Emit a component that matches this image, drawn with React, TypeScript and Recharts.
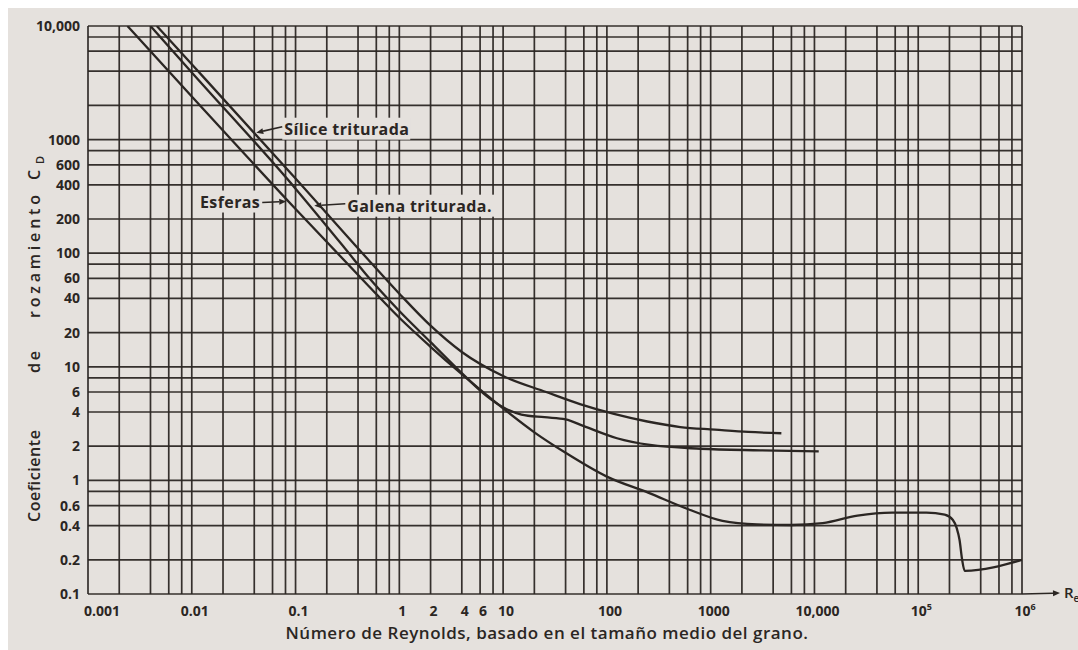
import React from "react";
import { LineChart, Line, XAxis, YAxis, CartesianGrid, ReferenceDot, Label } from "recharts";

// grid: lines at 1, 2, 4, 6, 8 of every decade
const GRID_MULT = [1, 2, 4, 6, 8];
const X_DECADES = [-3, -2, -1, 0, 1, 2, 3, 4, 5];
const Y_DECADES = [-1, 0, 1, 2, 3];

const X_LABEL_VALUES = [0.001, 0.01, 0.1, 1, 2, 4, 6, 10, 100, 1000, 10000, 100000, 1000000];
const X_LABEL_TEXT = ["0.001", "0.01", "0.1", "1", "2", "4", "6", "10", "100", "1000", "10,000", "10^5", "10^6"];

const Y_LABEL_VALUES = [10000, 1000, 600, 400, 200, 100, 60, 40, 20, 10, 6, 4, 2, 1, 0.6, 0.4, 0.2, 0.1];
const Y_LABEL_TEXT = ["10,000", "1000", "600", "400", "200", "100", "60", "40", "20", "10", "6", "4", "2", "1", "0.6", "0.4", "0.2", "0.1"];

// curves (Re, C_D)
const ESFERAS_RE = [0.0024, 0.01, 0.1, 0.5, 1, 2, 4, 10, 20, 40, 100, 250, 600, 1300, 2800, 6000, 12000, 26000, 56000, 120000, 180000, 215000, 235000, 250000, 265000, 280000, 1000000];
const ESFERAS_CD = [10000, 2400, 245, 52, 27, 15, 8.6, 4.3, 2.65, 1.75, 1.08, 0.78, 0.56, 0.44, 0.41, 0.405, 0.42, 0.49, 0.52, 0.52, 0.5, 0.45, 0.38, 0.3, 0.2, 0.16, 0.2];

const GALENA_RE = [0.004, 0.01, 0.1, 0.3, 0.5, 1, 2, 4, 7, 10, 15, 25, 40, 60, 125, 260, 800, 3000, 11000];
const GALENA_CD = [10000, 3900, 370, 110, 62, 31, 16.5, 8.8, 5.5, 4.4, 3.8, 3.6, 3.45, 3.0, 2.35, 2.05, 1.9, 1.84, 1.8];

const SILICE_RE = [0.0046, 0.01, 0.1, 0.5, 1, 2, 4, 10, 26, 55, 117, 245, 510, 1100, 2300, 4800];
const SILICE_CD = [10000, 4600, 455, 88, 44, 23, 13.5, 8.3, 6.0, 4.7, 3.85, 3.3, 2.95, 2.8, 2.67, 2.6];

// annotation arrows: tip on the curve
const NOTE_TEXT = ["Sílice triturada", "Esferas", "Galena triturada."];
const NOTE_RE = [0.04, 0.085, 0.145];
const NOTE_CD = [1150, 285, 262];

// y title words, spread along the axis as in the original print
const Y_TITLE_WORDS = ["Coeficiente", "de", "rozamiento", "C"];

const INK = "#2b2623";
const PAPER = "#e5e1dd";
const FONT = "'Open Sans', sans-serif";

const buildGrid = (decades: number[]) =>
  decades.flatMap((d) => GRID_MULT.map((m) => Number((m * Math.pow(10, d)).toPrecision(6))));

const X_GRID = [...buildGrid(X_DECADES), 1000000];
const Y_GRID = [...buildGrid(Y_DECADES), 10000];

const zip = (re: number[], cd: number[]) => re.map((r, i) => ({ re: r, cd: cd[i] }));
const esferas = zip(ESFERAS_RE, ESFERAS_CD);
const galena = zip(GALENA_RE, GALENA_CD);
const silice = zip(SILICE_RE, SILICE_CD);

function powerText(t: string) {
  if (t.includes("^")) {
    const [b, e] = t.split("^");
    return (
      <>
        {b}
        <tspan dy={-6} fontSize={9}>{e}</tspan>
      </>
    );
  }
  return t;
}

function XTick(props: any) {
  const { x, y, payload } = props;
  const i = X_LABEL_VALUES.findIndex((v) => Math.abs(v - payload.value) / v < 1e-6);
  if (i < 0) return null;
  const first = i === 0;
  return (
    <text x={first ? x - 4 : x + 3} y={y + 20} textAnchor={first ? "start" : "middle"} fill={INK}
      fontFamily={FONT} fontWeight={700} fontSize={14}>
      {powerText(X_LABEL_TEXT[i])}
    </text>
  );
}

function YTick(props: any) {
  const { x, y, payload } = props;
  const i = Y_LABEL_VALUES.findIndex((v) => Math.abs(v - payload.value) / v < 1e-6);
  if (i < 0) return null;
  return (
    <text x={x} y={y + 5} textAnchor="end" fill={INK} fontFamily={FONT} fontWeight={700} fontSize={14}>
      {Y_LABEL_TEXT[i]}
    </text>
  );
}

function Arrow({ x1, y1, x2, y2 }: { x1: number; y1: number; x2: number; y2: number }) {
  const a = Math.atan2(y2 - y1, x2 - x1);
  const L = 7, W = 3;
  const bx = x2 - L * Math.cos(a), by = y2 - L * Math.sin(a);
  const pts = `${x2},${y2} ${bx + W * Math.sin(a)},${by - W * Math.cos(a)} ${bx - W * Math.sin(a)},${by + W * Math.cos(a)}`;
  return (
    <g>
      <line x1={x1} y1={y1} x2={bx} y2={by} stroke={INK} strokeWidth={1.6} />
      <polygon points={pts} fill={INK} />
    </g>
  );
}

function noteShape(i: number) {
  return (p: any) => {
    const { cx, cy } = p;
    const textProps = { fill: INK, fontFamily: FONT, fontWeight: 700, fontSize: 16, letterSpacing: 0.4 };
    if (i === 1) {
      return (
        <g>
          <rect x={cx - 92} y={cy - 11} width={62} height={22} fill={PAPER} />
          <text x={cx - 28} y={cy + 6} textAnchor="end" {...textProps}>{NOTE_TEXT[i]}</text>
          <Arrow x1={cx - 26} y1={cy + 1} x2={cx - 2} y2={cy} />
        </g>
      );
    }
    const dy = i === 0 ? -4 : 0;
    const gap = i === 0 ? 28 : 33;
    const w = i === 0 ? 128 : 152;
    return (
      <g>
        <rect x={cx + gap} y={cy + dy - 11} width={w} height={22} fill={PAPER} />
        <text x={cx + gap + 2} y={cy + dy + 6} textAnchor="start" {...textProps}>{NOTE_TEXT[i]}</text>
        <Arrow x1={cx + gap} y1={cy + dy - 2} x2={cx + 2} y2={cy} />
      </g>
    );
  };
}

function YTitle(props: any) {
  const { viewBox } = props;
  const cx = viewBox.x + 12;
  const base = viewBox.y + viewBox.height; // bottom of the plot
  // start offset (from plot bottom, upwards) and drawn length of each word
  const starts = [72, 221, 276, 414];
  const lengths = [92, 22, 123, 14];
  return (
    <g transform={`rotate(-90 ${cx} ${base})`}>
      {Y_TITLE_WORDS.map((w, i) => (
        <text key={w} x={cx + starts[i]} y={base} fill={INK} fontFamily={FONT} fontWeight={600} fontSize={16}
          textLength={lengths[i]} lengthAdjust="spacing">
          {w}
        </text>
      ))}
      <text x={cx + 430} y={base + 4} fill={INK} fontFamily={FONT} fontWeight={600} fontSize={11}>D</text>
    </g>
  );
}

function XTitle(props: any) {
  const { viewBox } = props;
  const right = viewBox.x + viewBox.width;
  const axisY = viewBox.y;
  return (
    <g>
      <text x={viewBox.x + viewBox.width / 2 - 8} y={axisY + 45} textAnchor="middle" fill={INK}
        fontFamily={FONT} fontWeight={600} fontSize={17} letterSpacing={0.5}>
        Número de Reynolds, basado en el tamaño medio del grano.
      </text>
      <Arrow x1={right} y1={axisY} x2={right + 38} y2={axisY - 1} />
      <text x={right + 42} y={axisY + 4} fill={INK} fontFamily={FONT} fontWeight={600} fontSize={15}>
        R<tspan dy={4} fontSize={10}>e</tspan>
      </text>
    </g>
  );
}

export default function App() {
  return (
    <div style={{ position: "fixed", left: 0, top: 0, width: 1078, height: 650, background: "#ffffff", overflow: "hidden" }}>
      <div style={{ position: "absolute", left: 8, top: 8, width: 1070, height: 642, background: PAPER }}>
        <LineChart width={1070} height={642} margin={{ top: 18, right: 56, bottom: 6, left: 20 }}>
          <CartesianGrid stroke={INK} strokeWidth={1.7} strokeOpacity={0.95} />
          <XAxis type="number" dataKey="re" scale="log" domain={[0.001, 1000000]} allowDataOverflow
            ticks={X_GRID} interval={0} tick={<XTick />} tickLine={false} axisLine={false} tickSize={0} height={50}>
            <Label content={<XTitle />} />
          </XAxis>
          <YAxis type="number" dataKey="cd" scale="log" domain={[0.1, 10000]} allowDataOverflow
            ticks={Y_GRID} interval={0} tick={<YTick />} tickLine={false} axisLine={false} tickSize={0} tickMargin={8} width={60}>
            <Label content={<YTitle />} />
          </YAxis>
          <Line data={esferas} dataKey="cd" type="monotone" stroke={INK} strokeWidth={2.3} dot={false} isAnimationActive={false} />
          <Line data={galena} dataKey="cd" type="monotone" stroke={INK} strokeWidth={2.3} dot={false} isAnimationActive={false} />
          <Line data={silice} dataKey="cd" type="monotone" stroke={INK} strokeWidth={2.3} dot={false} isAnimationActive={false} />
          {NOTE_TEXT.map((t, i) => (
            <ReferenceDot key={t} x={NOTE_RE[i]} y={NOTE_CD[i]} r={0} ifOverflow="visible" shape={noteShape(i)} />
          ))}
        </LineChart>
      </div>
    </div>
  );
}
